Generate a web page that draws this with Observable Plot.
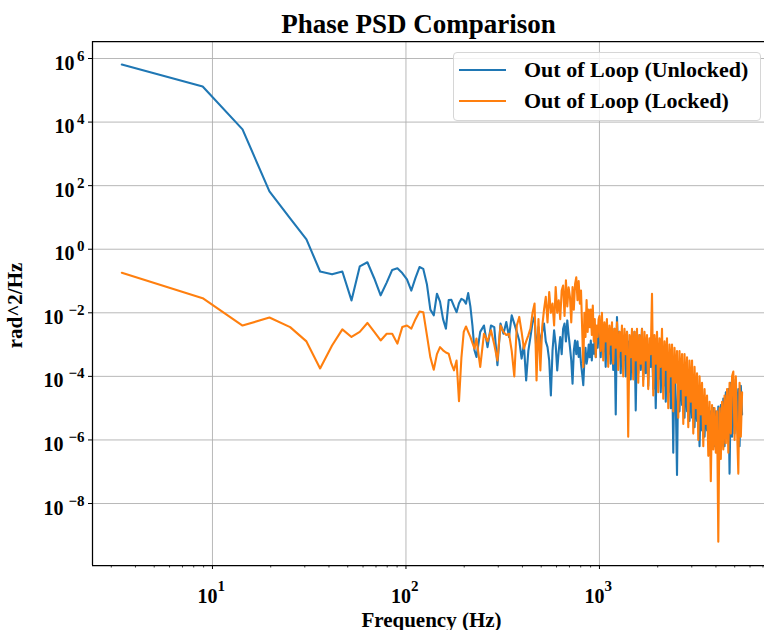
<!DOCTYPE html>
<html>
<head>
<meta charset="utf-8">
<script src="https://cdn.jsdelivr.net/npm/d3@7"></script>
<script src="https://cdn.jsdelivr.net/npm/@observablehq/plot@0.6"></script>
<style>
  body { margin: 0; background: #fff; }
  #wrap { position: relative; width: 764px; height: 630px; font-family: "Liberation Serif", "Times New Roman", serif; }
  #legend { position: absolute; left: 453px; top: 52px; width: 308px; height: 69px; box-sizing: border-box;
            background: rgba(255,255,255,0.8); border: 1px solid #d6d6d6; border-radius: 4px; }
  .sw { position: absolute; left: 5px; width: 47px; height: 2px; }
  .lab { position: absolute; left: 70px; font-weight: bold; font-size: 22px; line-height: 22px; white-space: nowrap; color: #000; }
</style>
</head>
<body>
<div id="wrap">
  <div id="chart"></div>
  <div id="legend"></div>
</div>
<script>
// ---- data ----
const title = "Phase PSD Comparison";
const xLabel = "Frequency (Hz)";
const yLabel = "rad^2/Hz";
const seriesNames = ["Out of Loop (Unlocked)", "Out of Loop (Locked)"];
const seriesColors = ["#1f77b4", "#ff7f0e"];

const xTickExponents = [1, 2, 3];
const yTickExponents = [6, 4, 2, 0, -2, -4, -6, -8];
const xMinorTicks = [3,4,5,6,7,8,9,20,30,40,50,60,70,80,90,200,300,400,500,600,700,800,900,2000,3000,4000,5000,6000,7000];

// frequency (Hz) of each sample
const freqHz = [
  3.4, 8.9, 14.3, 19.7, 25.2, 30.6, 36.0, 41.5, 46.9, 52.3, 57.7, 63.2, 68.6, 74.0, 79.5, 84.9, 90.3, 95.7, 101.2, 106.6,
  112.0, 117.5, 122.9, 128.3, 133.7, 139.2, 144.6, 150.0, 155.5, 160.9, 166.3, 171.7, 177.2, 182.6, 188.0, 193.5, 198.9, 204.3, 209.7, 215.2,
  220.6, 226.0, 231.4,
  242, 253, 264, 275, 286, 297, 308, 319, 330, 341, 352, 363, 374, 385, 396, 407, 418, 429, 440, 451,
  462, 473, 484, 495, 506, 517, 528, 539, 550, 561, 572, 583, 594, 605, 616, 627, 638, 649, 660, 671,
  682, 693, 704, 715, 726, 737, 748, 759, 770, 781, 792, 803, 814, 825, 836, 847, 858, 869, 880, 891,
  902, 913, 924, 935, 946, 957, 968, 979, 990,
  1000, 1015, 1030, 1046, 1061, 1077, 1093, 1110, 1126, 1143, 1161, 1178, 1196, 1214, 1232, 1250, 1269, 1288, 1307, 1327,
  1347, 1367, 1388, 1408, 1430, 1451, 1473, 1495, 1517, 1540, 1563, 1587, 1610, 1635, 1659, 1684, 1709, 1735, 1761, 1787,
  1814, 1841, 1869, 1897, 1925, 1954, 1984, 2013, 2043, 2074, 2105, 2137, 2169, 2201, 2234, 2268, 2302, 2336, 2372, 2407,
  2443, 2480, 2517, 2555, 2593, 2632, 2672, 2712, 2752, 2794, 2836, 2878, 2921, 2965, 3010, 3055, 3101, 3147, 3194, 3242,
  3291, 3340, 3390, 3441, 3493, 3545, 3598, 3652, 3707, 3763, 3819, 3876, 3934, 3993, 4053, 4114, 4176, 4239, 4302, 4367,
  4432, 4499, 4566, 4635, 4704, 4775, 4846, 4919, 4993, 5068, 5144, 5221, 5299, 5379, 5460
];

// PSD, stored as decimal exponent: value = 10^exp rad^2/Hz
const unlockedExp10 = [
  5.81, 5.12, 3.77, 1.82, 0.97, 0.31, -0.70, -0.79, -0.70, -1.61, -0.54, -0.41, -0.92, -1.45, -1.05, -0.65, -0.60, -0.75, -0.95, -1.30,
  -0.90, -0.56, -0.62, -1.10, -1.90, -2.08, -1.40, -1.65, -2.20, -2.50, -1.60, -1.59, -1.80, -1.98, -1.70, -1.56, -1.60, -1.71, -1.38, -1.80,
  -2.40, -3.18, -3.39,
  -2.6, -2.4, -3.08, -2.4, -2.45, -3.65, -2.34, -2.66, -2.29, -2.76, -2.08, -2.34, -2.6, -2.87, -3.44, -3.0, -4.13, -3.2, -2.76, -2.3,
  -2.13, -3.29, -2.45, -2.97, -2.6, -2.34, -2.9, -3.08, -3.5, -4.6, -3.2, -2.55, -3.0, -3.81, -3.2, -2.76, -3.3, -2.5, -2.34, -2.9,
  -2.24, -2.7, -3.08, -3.5, -4.23, -3.2, -2.87, -3.3, -2.9, -3.39, -3.1, -3.6, -3.92, -4.28, -3.5, -3.1, -3.6, -3.39, -3.0, -3.4,
  -2.87, -3.5, -3.0, -3.29, -2.8, -3.4, -2.7, -3.1, -2.66,
  -2.4, -3.4, -2.3, -3.2, -2.6, -3.7, -2.4, -3.3, -2.5, -3.6, -2.6, -3.8, -2.5, -5.2, -2.13, -3.4, -2.6, -3.9, -2.7, -3.5,
  -2.8, -4.0, -2.6, -3.6, -2.9, -4.1, -2.7, -3.7, -2.6, -5.07, -2.8, -3.9, -2.7, -3.8, -2.5, -4.1, -2.9, -3.9, -2.8, -4.3,
  -3.0, -3.7, -2.9, -4.4, -3.0, -5.0, -3.1, -4.1, -3.0, -4.5, -3.2, -4.3, -3.3, -4.8, -3.2, -4.5, -3.4, -5.0, -3.3, -6.4,
  -3.5, -4.8, -7.1, -3.6, -5.1, -3.6, -4.9, -3.7, -5.3, -3.8, -5.1, -3.9, -5.4, -4.0, -5.3, -4.1, -5.6, -4.3, -5.4, -4.4,
  -6.2, -4.6, -5.7, -4.8, -5.9, -4.9, -5.7, -5.0, -6.2, -5.1, -6.0, -5.0, -6.2, -5.1, -6.3, -4.95, -6.5, -4.9, -6.0, -4.7,
  -6.2, -4.5, -5.9, -4.4, -7.06, -4.2, -5.9, -4.1, -5.8, -4.2, -5.6, -4.4, -6.2, -4.3, -5.2
];

const lockedExp10 = [
  -0.74, -1.54, -2.40, -2.15, -2.45, -2.90, -3.75, -3.03, -2.52, -2.76, -2.60, -2.32, -2.60, -2.87, -2.66, -2.66, -2.97, -2.45, -2.40, -2.50,
  -2.20, -1.96, -1.98, -2.70, -3.40, -3.79, -3.30, -3.08, -3.18, -3.25, -3.29, -3.60, -3.81, -3.50, -4.78, -3.40, -2.60, -2.43, -2.60, -2.76,
  -2.95, -3.13, -2.81,
  -3.7, -2.66, -2.9, -2.55, -3.0, -3.5, -2.4, -2.6, -2.7, -2.66, -3.2, -4.0, -2.4, -2.13, -2.6, -3.13, -2.9, -2.71, -2.5, -2.0,
  -1.71, -4.13, -2.2, -3.81, -2.45, -1.9, -1.5, -2.3, -1.35, -2.0, -1.71, -2.4, -1.19, -2.0, -1.61, -2.2, -1.3, -1.14, -2.1, -0.98,
  -1.8, -1.2, -1.5, -2.3, -1.19, -1.9, -1.1, -0.88, -1.6, -1.0, -1.71, -1.3, -2.5, -3.71, -2.0, -2.76, -1.6, -2.6, -1.9, -2.45,
  -1.9, -2.7, -1.77, -2.9, -2.2, -3.39, -2.4, -2.76, -2.2,
  -2.1, -3.2, -2.0, -3.5, -2.3, -2.9, -2.2, -3.7, -2.4, -3.0, -2.3, -3.6, -2.5, -3.1, -2.3, -3.8, -2.6, -3.2, -2.4, -4.0,
  -2.5, -3.3, -2.6, -5.9, -2.7, -3.4, -2.5, -4.1, -2.6, -3.5, -2.5, -4.2, -2.7, -3.6, -2.5, -4.3, -2.6, -3.5, -2.7, -4.4,
  -2.8, -3.3, -1.4, -4.6, -2.7, -3.6, -2.6, -4.5, -2.8, -3.7, -2.5, -4.7, -2.9, -3.8, -2.8, -5.0, -3.0, -4.0, -3.0, -5.1,
  -3.1, -4.2, -3.2, -5.3, -3.2, -4.4, -3.3, -5.5, -3.3, -4.6, -3.4, -5.6, -3.5, -4.8, -3.5, -5.8, -3.7, -5.0, -3.9, -6.0,
  -4.0, -5.2, -4.2, -6.2, -4.4, -5.5, -4.6, -6.5, -4.8, -7.3, -4.9, -6.3, -5.0, -6.4, -5.1, -9.2, -5.0, -6.6, -4.8, -6.3,
  -4.6, -6.1, -4.4, -6.4, -4.2, -5.8, -4.0, -3.85, -6.0, -4.0, -5.7, -7.06, -4.2, -5.9, -4.5
];

if (freqHz.length !== unlockedExp10.length || freqHz.length !== lockedExp10.length) {
  console.error("length mismatch", freqHz.length, unlockedExp10.length, lockedExp10.length);
}

// ---- build ----
const unlockedRows = freqHz.map((f, i) => ({f, p: Math.pow(10, unlockedExp10[i])}));
const lockedRows = freqHz.map((f, i) => ({f, p: Math.pow(10, lockedExp10[i])}));

const xDomain = [Math.pow(10, 0.380), Math.pow(10, 3.853)];
const yDomain = [Math.pow(10, -9.95), Math.pow(10, 6.535)];
const xMajor = xTickExponents.map(e => Math.pow(10, e));
const yMajor = yTickExponents.map(e => Math.pow(10, e));
const supText = e => String(e).replace("-", "\u2212");
const yPos = yTickExponents.filter(e => e >= 0);
const yNeg = yTickExponents.filter(e => e < 0);

const font = '"Liberation Serif", "Times New Roman", serif';
const grid = "#b0b0b0";

const chart = Plot.plot({
  width: 764,
  height: 630,
  marginTop: 41,
  marginBottom: 65,
  marginLeft: 92,
  marginRight: 0,
  style: {fontFamily: font, background: "#fff", color: "#000"},
  x: {type: "log", domain: xDomain},
  y: {type: "log", domain: yDomain},
  marks: [
    Plot.ruleX(xMajor, {stroke: grid, strokeWidth: 0.9}),
    Plot.ruleY(yMajor, {stroke: grid, strokeWidth: 0.9}),
    Plot.line(unlockedRows, {x: "f", y: "p", stroke: seriesColors[0], strokeWidth: 2.1, strokeLinejoin: "round"}),
    Plot.line(lockedRows, {x: "f", y: "p", stroke: seriesColors[1], strokeWidth: 2.1, strokeLinejoin: "round"}),
    // spines
    Plot.ruleX([xDomain[0]], {stroke: "#000", strokeWidth: 1.25}),
    Plot.ruleY([yDomain[0], yDomain[1]], {stroke: "#000", strokeWidth: 1.25}),
    // ticks
    Plot.axisX(xMajor, {anchor: "bottom", tickSize: 4, strokeWidth: 1, fill: "none", label: null}),
    Plot.axisX(xMinorTicks, {anchor: "bottom", tickSize: 2.5, strokeWidth: 0.8, fill: "none", label: null}),
    Plot.axisY(yMajor, {anchor: "left", tickSize: 4, strokeWidth: 1, fill: "none", label: null}),
    // x tick labels: 10^e
    Plot.text(xTickExponents, {x: e => Math.pow(10, e), frameAnchor: "bottom", text: () => "10", textAnchor: "end",
      lineAnchor: "bottom", dx: 5, dy: 37, fontSize: 20, fontWeight: "bold"}),
    Plot.text(xTickExponents, {x: e => Math.pow(10, e), frameAnchor: "bottom", text: e => supText(e), textAnchor: "start",
      lineAnchor: "bottom", dx: 5, dy: 25, fontSize: 15, fontWeight: "bold"}),
    // y tick labels: 10^e
    Plot.text(yPos, {y: e => Math.pow(10, e), frameAnchor: "left", text: () => "10", textAnchor: "end",
      lineAnchor: "bottom", dx: -18, dy: 11, fontSize: 20, fontWeight: "bold"}),
    Plot.text(yNeg, {y: e => Math.pow(10, e), frameAnchor: "left", text: () => "10", textAnchor: "end",
      lineAnchor: "bottom", dx: -29, dy: 11, fontSize: 20, fontWeight: "bold"}),
    Plot.text(yTickExponents, {y: e => Math.pow(10, e), frameAnchor: "left", text: e => supText(e), textAnchor: "end",
      lineAnchor: "bottom", dx: -8, dy: 2, fontSize: 15, fontWeight: "bold"}),
    // title & axis labels
    Plot.text([title], {frameAnchor: "top", text: d => d, textAnchor: "middle", lineAnchor: "bottom", dx: -10, dy: -9, fontSize: 27, fontWeight: "bold"}),
    Plot.text([xLabel], {frameAnchor: "bottom", text: d => d, textAnchor: "middle", lineAnchor: "bottom", dx: 3, dy: 61, fontSize: 21, fontWeight: "bold"}),
    Plot.text([yLabel], {frameAnchor: "left", text: d => d, textAnchor: "middle", lineAnchor: "middle", rotate: -90, dx: -77, dy: 2, fontSize: 21, fontWeight: "bold"})
  ]
});
document.getElementById("chart").appendChild(chart);

// legend
const legend = document.getElementById("legend");
const rowTops = [6, 37];
seriesNames.forEach((name, i) => {
  const sw = document.createElement("div");
  sw.className = "sw";
  sw.style.top = (rowTops[i] + 10) + "px";
  sw.style.background = seriesColors[i];
  const lab = document.createElement("div");
  lab.className = "lab";
  lab.style.top = rowTops[i] + "px";
  lab.textContent = name;
  legend.appendChild(sw);
  legend.appendChild(lab);
});
</script>
</body>
</html>
